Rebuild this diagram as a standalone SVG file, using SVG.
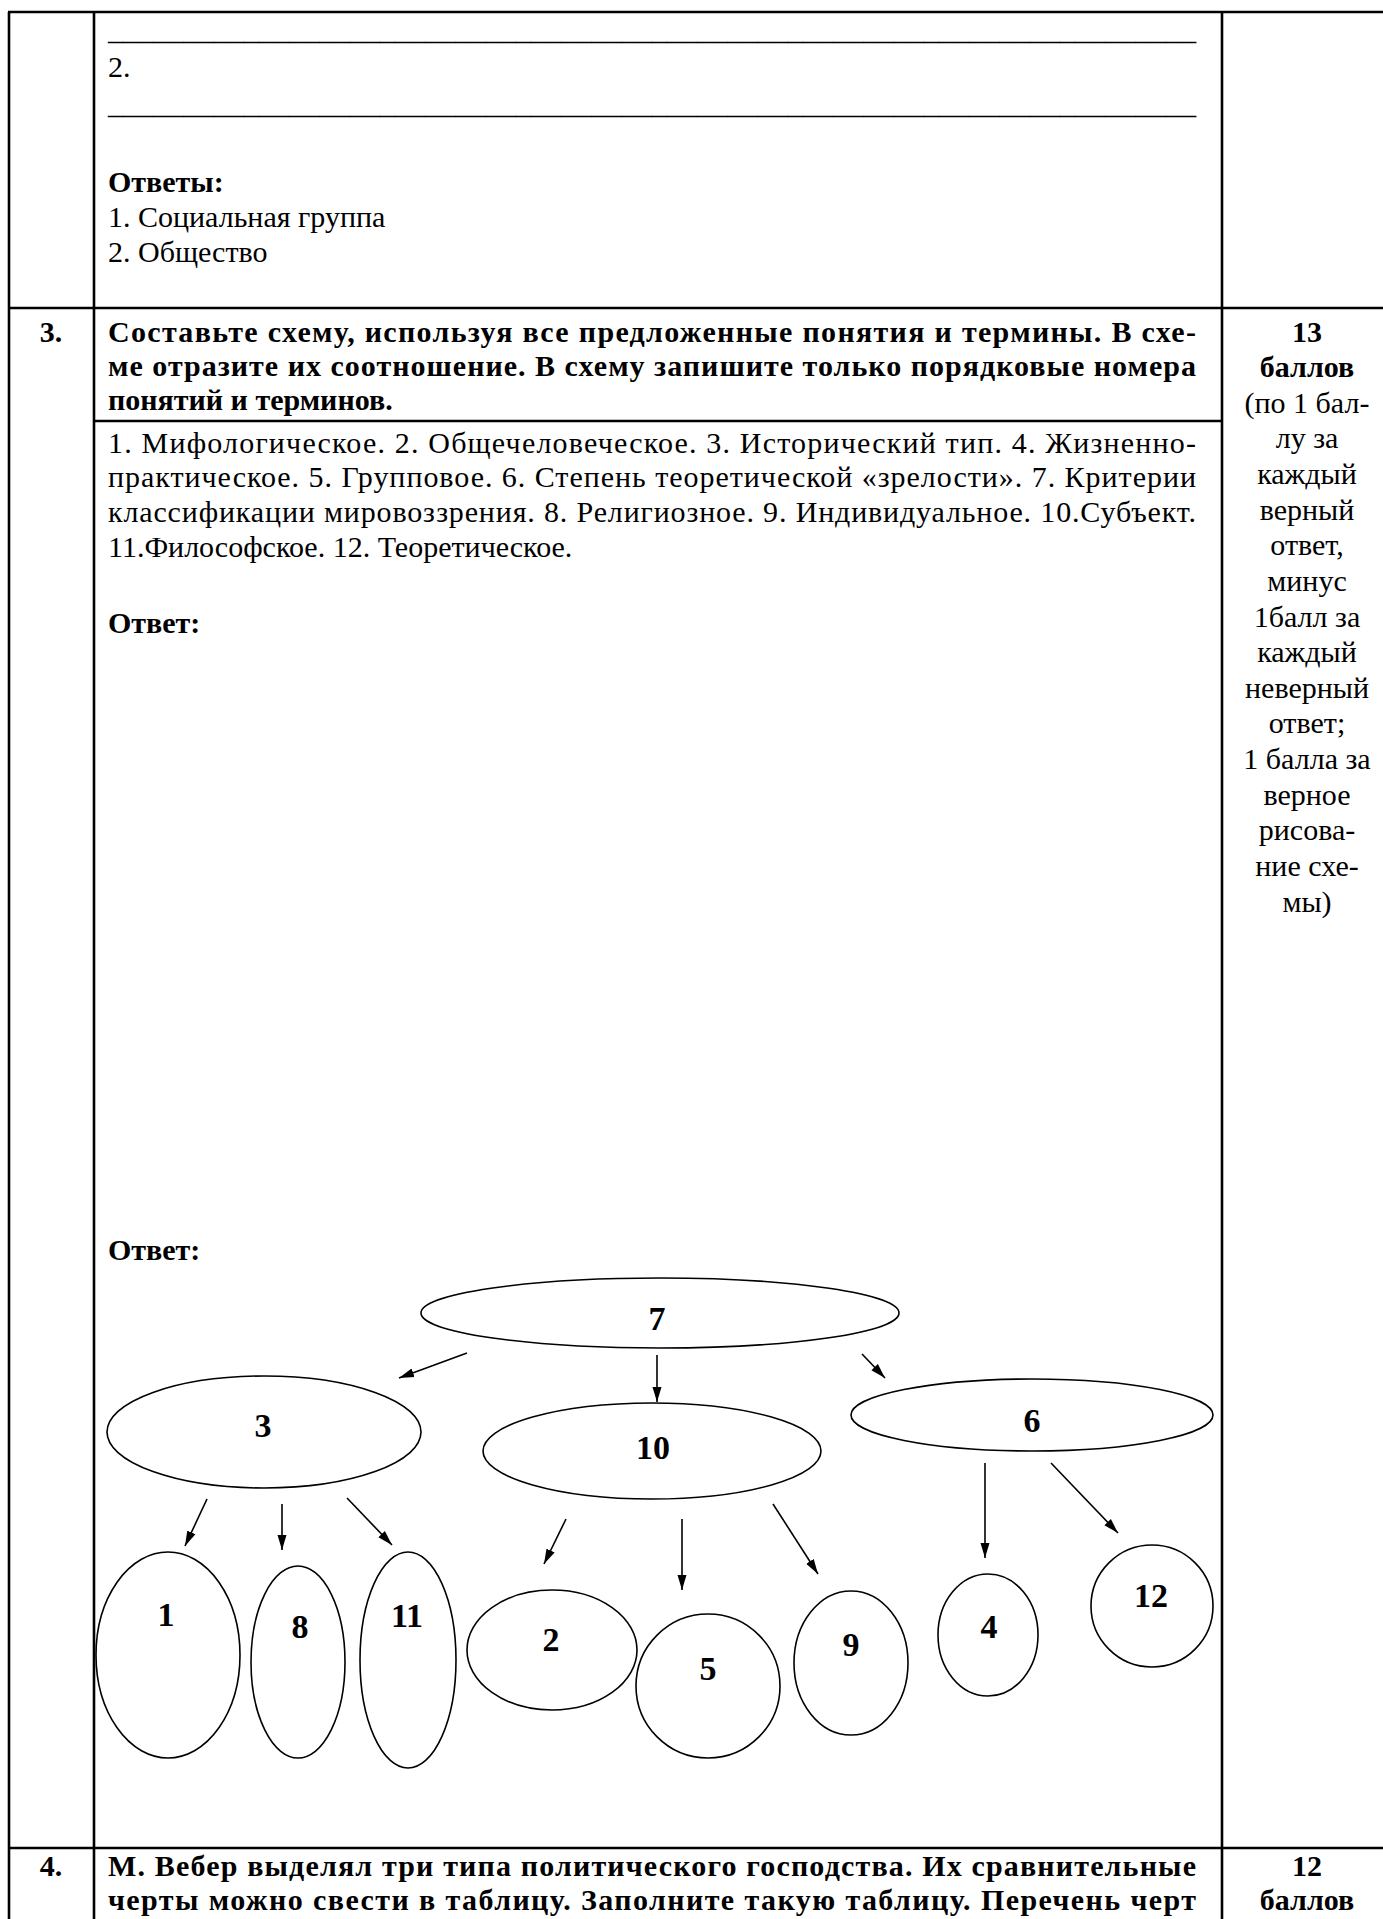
<svg xmlns="http://www.w3.org/2000/svg" width="1383" height="1919" viewBox="0 0 1383 1919">
<defs>
<style>
.t{font-family:"Liberation Serif","Times New Roman",serif;font-size:30px;fill:#000}
.b{font-weight:bold}
.c{text-anchor:middle}
.n{font-family:"Liberation Serif","Times New Roman",serif;font-size:34px;font-weight:bold;text-anchor:middle;fill:#000}
.grid line{stroke:#000;stroke-width:2.6}
.node ellipse{fill:none;stroke:#000;stroke-width:1.6}
.conn line{stroke:#000;stroke-width:1.6;marker-end:url(#ah)}
</style>
<marker id="ah" markerWidth="15" markerHeight="10" refX="15" refY="5" orient="auto" markerUnits="userSpaceOnUse">
<path d="M0,0.5 L15,5 L0,9.5 z" fill="#000"/>
</marker>
</defs>
<rect width="1383" height="1919" fill="#fff"/>

<g id="table" class="grid">
<line x1="8" y1="12" x2="1383" y2="12"/>
<line x1="9" y1="12" x2="9" y2="1919"/>
<line x1="94" y1="12" x2="94" y2="1919"/>
<line x1="1222" y1="12" x2="1222" y2="1919"/>
<line x1="9" y1="308" x2="1383" y2="308"/>
<line x1="94" y1="421" x2="1222" y2="421"/>
<line x1="9" y1="1848" x2="1383" y2="1848"/>
</g>

<g id="top-text">
<text class="t" x="108" y="40" textLength="1088" lengthAdjust="spacingAndGlyphs">________________________________________________________________________</text>
<text class="t" x="108" y="77">2.</text>
<text class="t" x="108" y="114" textLength="1088" lengthAdjust="spacingAndGlyphs">________________________________________________________________________</text>
<text class="t b" x="108" y="192">Ответы:</text>
<text class="t" x="108" y="227">1. Социальная группа</text>
<text class="t" x="108" y="262">2. Общество</text>
</g>

<g id="q3">
<text class="t b c" x="51" y="342">3.</text>
<text class="t b" x="108" y="342" textLength="1088" lengthAdjust="spacing">Составьте схему, используя все предложенные понятия и термины. В схе-</text>
<text class="t b" x="108" y="376" textLength="1088" lengthAdjust="spacing">ме отразите их соотношение. В схему запишите только порядковые номера</text>
<text class="t b" x="108" y="410">понятий и терминов.</text>
<text class="t" x="108" y="453" textLength="1088" lengthAdjust="spacing">1. Мифологическое. 2. Общечеловеческое. 3. Исторический тип. 4. Жизненно-</text>
<text class="t" x="108" y="487" textLength="1088" lengthAdjust="spacing">практическое. 5. Групповое. 6. Степень теоретической «зрелости». 7. Критерии</text>
<text class="t" x="108" y="522" textLength="1088" lengthAdjust="spacing">классификации мировоззрения. 8. Религиозное. 9. Индивидуальное. 10.Субъект.</text>
<text class="t" x="108" y="557">11.Философское. 12. Теоретическое.</text>
<text class="t b" x="108" y="633">Ответ:</text>
<text class="t b" x="108" y="1260">Ответ:</text>
</g>

<g id="score3">
<text class="t b c" x="1307" y="342">13</text>
<text class="t b c" x="1307" y="377">баллов</text>
<text class="t c" x="1307" y="413">(по 1 бал-</text>
<text class="t c" x="1307" y="448">лу за</text>
<text class="t c" x="1307" y="484">каждый</text>
<text class="t c" x="1307" y="520">верный</text>
<text class="t c" x="1307" y="555">ответ,</text>
<text class="t c" x="1307" y="591">минус</text>
<text class="t c" x="1307" y="627">1балл за</text>
<text class="t c" x="1307" y="662">каждый</text>
<text class="t c" x="1307" y="698">неверный</text>
<text class="t c" x="1307" y="733">ответ;</text>
<text class="t c" x="1307" y="769">1 балла за</text>
<text class="t c" x="1307" y="805">верное</text>
<text class="t c" x="1307" y="840">рисова-</text>
<text class="t c" x="1307" y="876">ние схе-</text>
<text class="t c" x="1307" y="912">мы)</text>
</g>

<g id="q4">
<text class="t b c" x="51" y="1876">4.</text>
<text class="t b" x="108" y="1876" textLength="1088" lengthAdjust="spacing">М. Вебер выделял три типа политического господства. Их сравнительные</text>
<text class="t b" x="108" y="1910" textLength="1088" lengthAdjust="spacing">черты можно свести в таблицу. Заполните такую таблицу. Перечень черт</text>
<text class="t b c" x="1307" y="1876">12</text>
<text class="t b c" x="1307" y="1910">баллов</text>
</g>

<g id="node-7" class="node"><ellipse cx="660" cy="1313" rx="239" ry="35"/><text class="n" x="657" y="1330">7</text></g>
<g id="node-3" class="node"><ellipse cx="264" cy="1432" rx="157" ry="56"/><text class="n" x="263" y="1437">3</text></g>
<g id="node-10" class="node"><ellipse cx="652" cy="1451" rx="169" ry="48"/><text class="n" x="653" y="1459">10</text></g>
<g id="node-6" class="node"><ellipse cx="1032" cy="1415" rx="181" ry="36"/><text class="n" x="1032" y="1432">6</text></g>
<g id="node-1" class="node"><ellipse cx="168" cy="1655" rx="72" ry="103"/><text class="n" x="166" y="1626">1</text></g>
<g id="node-8" class="node"><ellipse cx="298" cy="1662" rx="47" ry="96"/><text class="n" x="300" y="1638">8</text></g>
<g id="node-11" class="node"><ellipse cx="408" cy="1660" rx="48" ry="108"/><text class="n" x="407" y="1627">11</text></g>
<g id="node-2" class="node"><ellipse cx="552" cy="1650" rx="85" ry="60"/><text class="n" x="551" y="1651">2</text></g>
<g id="node-5" class="node"><ellipse cx="708" cy="1686" rx="72" ry="72"/><text class="n" x="708" y="1680">5</text></g>
<g id="node-9" class="node"><ellipse cx="851" cy="1663" rx="57" ry="72"/><text class="n" x="851" y="1656">9</text></g>
<g id="node-4" class="node"><ellipse cx="988" cy="1635" rx="50" ry="61"/><text class="n" x="989" y="1638">4</text></g>
<g id="node-12" class="node"><ellipse cx="1152" cy="1606" rx="61" ry="61"/><text class="n" x="1151" y="1607">12</text></g>

<g id="connectors" class="conn">
<line x1="467" y1="1353" x2="399" y2="1378"/>
<line x1="657" y1="1355" x2="657" y2="1402"/>
<line x1="862" y1="1354" x2="885" y2="1378"/>
<line x1="207" y1="1499" x2="185" y2="1546"/>
<line x1="282" y1="1504" x2="282" y2="1550"/>
<line x1="347" y1="1498" x2="392" y2="1545"/>
<line x1="566" y1="1519" x2="544" y2="1564"/>
<line x1="682" y1="1519" x2="682" y2="1590"/>
<line x1="773" y1="1504" x2="818" y2="1574"/>
<line x1="985" y1="1463" x2="985" y2="1558"/>
<line x1="1051" y1="1463" x2="1118" y2="1533"/>
</g>
</svg>
